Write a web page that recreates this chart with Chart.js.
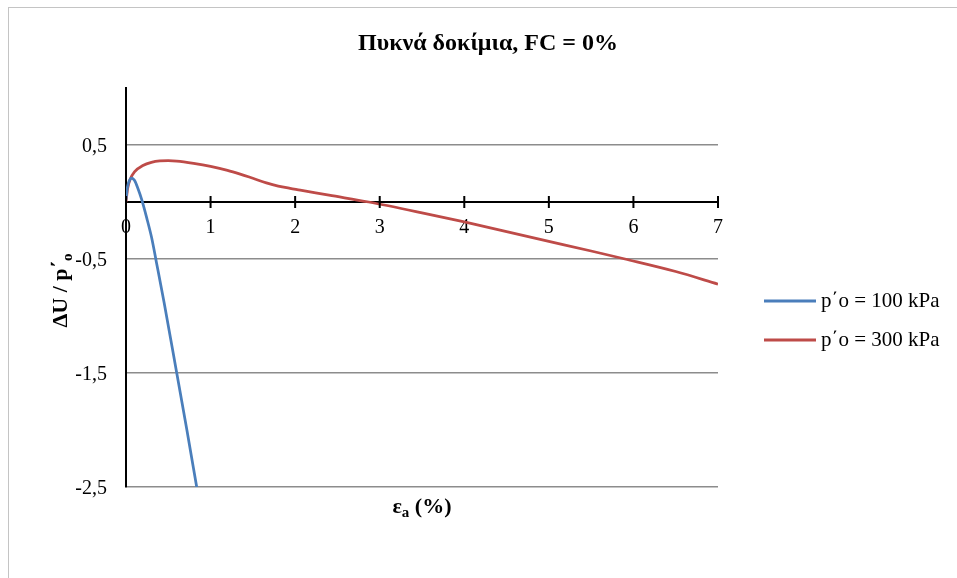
<!DOCTYPE html>
<html>
<head>
<meta charset="utf-8">
<title>Πυκνά δοκίμια, FC = 0%</title>
<script src="https://cdn.jsdelivr.net/npm/chart.js@4"></script>
<style>
    body { margin: 0; background: #fff; overflow: hidden; }
    .marco {
        position: absolute; left: 8px; top: 7px;
        width: 1000px; height: 700px;
        border: 1.5px solid #c4c4c4;
    }
    #grafico { position: absolute; left: 0; top: 0; }
</style>
</head>
<body>
<div class="marco"></div>
<canvas id="grafico" width="957" height="578"></canvas>
<script>
// Datos del grafico
const tituloGrafico = 'Πυκνά δοκίμια, FC = 0%';
const nombresSeries = ['p΄o = 100 kPa', 'p΄o = 300 kPa'];
const coloresSeries = ['#4a7ebb', '#be4b48'];

// p΄o = 100 kPa
const deformacion100 = [0, 0.015, 0.035, 0.067, 0.1, 0.14, 0.186, 0.245, 0.304, 0.36, 0.45, 0.6, 0.72, 0.836];
const presion100 = [0.02, 0.12, 0.18, 0.21, 0.19, 0.12, 0.02, -0.14, -0.316, -0.53, -0.88, -1.5, -2.0, -2.5];

// p΄o = 300 kPa
const deformacion300 = [0, 0.02, 0.05, 0.1, 0.2, 0.3, 0.4, 0.5, 0.6, 0.8, 1.0, 1.2, 1.35, 1.5, 1.66, 1.8, 1.94, 2.06, 2.4, 2.87, 3.5, 4.0, 4.5, 5.0, 5.5, 5.9, 6.5, 7.0];
const presion300 = [0, 0.12, 0.2, 0.265, 0.32, 0.348, 0.36, 0.362, 0.358, 0.338, 0.312, 0.278, 0.245, 0.208, 0.168, 0.14, 0.12, 0.105, 0.06, 0, -0.095, -0.175, -0.26, -0.345, -0.43, -0.5, -0.61, -0.72];

// Marcas de los ejes
const marcasY = [-2.5, -1.5, -0.5, 0.5];
const marcasX = [0, 1, 2, 3, 4, 5, 6, 7];

const fuente = 'Liberation Serif, Times New Roman, serif';

function puntos(xs, ys) {
    return xs.map((x, i) => ({ x: x, y: ys[i] }));
}

// Dibuja titulo, leyenda, titulos de ejes y marcas cruzadas del eje X
const extras = {
    id: 'extras',
    afterDraw(chart) {
        const ctx = chart.ctx;
        const area = chart.chartArea;
        const sx = chart.scales.x;
        const sy = chart.scales.y;
        ctx.save();

        // marcas que cruzan el eje X
        const y0 = sy.getPixelForValue(0);
        ctx.strokeStyle = '#000';
        ctx.lineWidth = 2;
        marcasX.forEach(v => {
            const px = sx.getPixelForValue(v);
            ctx.beginPath();
            ctx.moveTo(px, y0 - 6);
            ctx.lineTo(px, y0 + 6);
            ctx.stroke();
        });

        ctx.fillStyle = '#000';

        // titulo
        ctx.font = 'bold 24px ' + fuente;
        ctx.textAlign = 'center';
        ctx.textBaseline = 'middle';
        ctx.fillText(tituloGrafico, 488, 44);

        // titulo eje X: ε con subindice a
        const cx = (area.left + area.right) / 2;
        ctx.textBaseline = 'alphabetic';
        ctx.textAlign = 'left';
        ctx.font = 'bold 22px ' + fuente;
        const wEps = ctx.measureText('ε').width;
        const wPar = ctx.measureText(' (%)').width;
        ctx.font = 'bold 15px ' + fuente;
        const wA = ctx.measureText('a').width;
        let xt = cx - (wEps + wA + wPar) / 2;
        ctx.font = 'bold 22px ' + fuente;
        ctx.fillText('ε', xt, 513);
        ctx.font = 'bold 15px ' + fuente;
        ctx.fillText('a', xt + wEps, 517);
        ctx.font = 'bold 22px ' + fuente;
        ctx.fillText(' (%)', xt + wEps + wA, 513);

        // titulo eje Y: ΔU / p΄ con subindice o
        ctx.translate(67, (area.top + area.bottom) / 2 + 3);
        ctx.rotate(-Math.PI / 2);
        ctx.font = 'bold 22px ' + fuente;
        const wTxt = ctx.measureText('ΔU / p΄').width;
        ctx.font = 'bold 15px ' + fuente;
        const wO = ctx.measureText('o').width;
        const xi = -(wTxt + wO) / 2;
        ctx.font = 'bold 22px ' + fuente;
        ctx.fillText('ΔU / p΄', xi, 0);
        ctx.font = 'bold 15px ' + fuente;
        ctx.fillText('o', xi + wTxt, 5);
        ctx.setTransform(1, 0, 0, 1, 0, 0);

        // leyenda
        ctx.font = '21px ' + fuente;
        ctx.textBaseline = 'middle';
        chart.data.datasets.forEach((ds, i) => {
            const ly = 301 + i * 39;
            ctx.strokeStyle = ds.borderColor;
            ctx.lineWidth = 3;
            ctx.beginPath();
            ctx.moveTo(764, ly);
            ctx.lineTo(816, ly);
            ctx.stroke();
            ctx.fillText(ds.label, 821, ly);
        });

        ctx.restore();
    }
};

const ctx = document.getElementById('grafico').getContext('2d');

const grafico = new Chart(ctx, {
    type: 'line',
    data: {
        datasets: [
            {
                label: nombresSeries[0],
                data: puntos(deformacion100, presion100),
                borderColor: coloresSeries[0],
                borderWidth: 2.75,
                pointRadius: 0,
                cubicInterpolationMode: 'monotone'
            },
            {
                label: nombresSeries[1],
                data: puntos(deformacion300, presion300),
                borderColor: coloresSeries[1],
                borderWidth: 2.75,
                pointRadius: 0,
                cubicInterpolationMode: 'monotone'
            }
        ]
    },
    options: {
        responsive: false,
        animation: false,
        devicePixelRatio: 1,
        layout: {
            padding: { left: 26, top: 88, right: 239, bottom: 91 }
        },
        plugins: {
            legend: { display: false },
            title: { display: false },
            tooltip: { enabled: false }
        },
        scales: {
            x: {
                type: 'linear',
                position: { y: 0 },
                min: 0,
                max: 7,
                afterBuildTicks: (scale) => {
                    scale.ticks = marcasX.map(v => ({ value: v }));
                },
                grid: { display: false, drawTicks: false },
                border: { display: true, color: '#000', width: 2 },
                ticks: {
                    color: '#000',
                    padding: 14,
                    maxRotation: 0,
                    font: { family: fuente, size: 20 }
                }
            },
            y: {
                type: 'linear',
                min: -2.5,
                max: 1,
                afterFit: (scale) => { scale.width = 100; },
                afterBuildTicks: (scale) => {
                    scale.ticks = marcasY.map(v => ({ value: v }));
                },
                grid: { color: '#8c8c8c', lineWidth: 1.5, drawTicks: false },
                border: { display: true, color: '#000', width: 2 },
                ticks: {
                    color: '#000',
                    padding: 19,
                    labelOffset: 2,
                    font: { family: fuente, size: 20 },
                    callback: (v) => String(v).replace('.', ',')
                }
            }
        }
    },
    plugins: [extras]
});
</script>
</body>
</html>
